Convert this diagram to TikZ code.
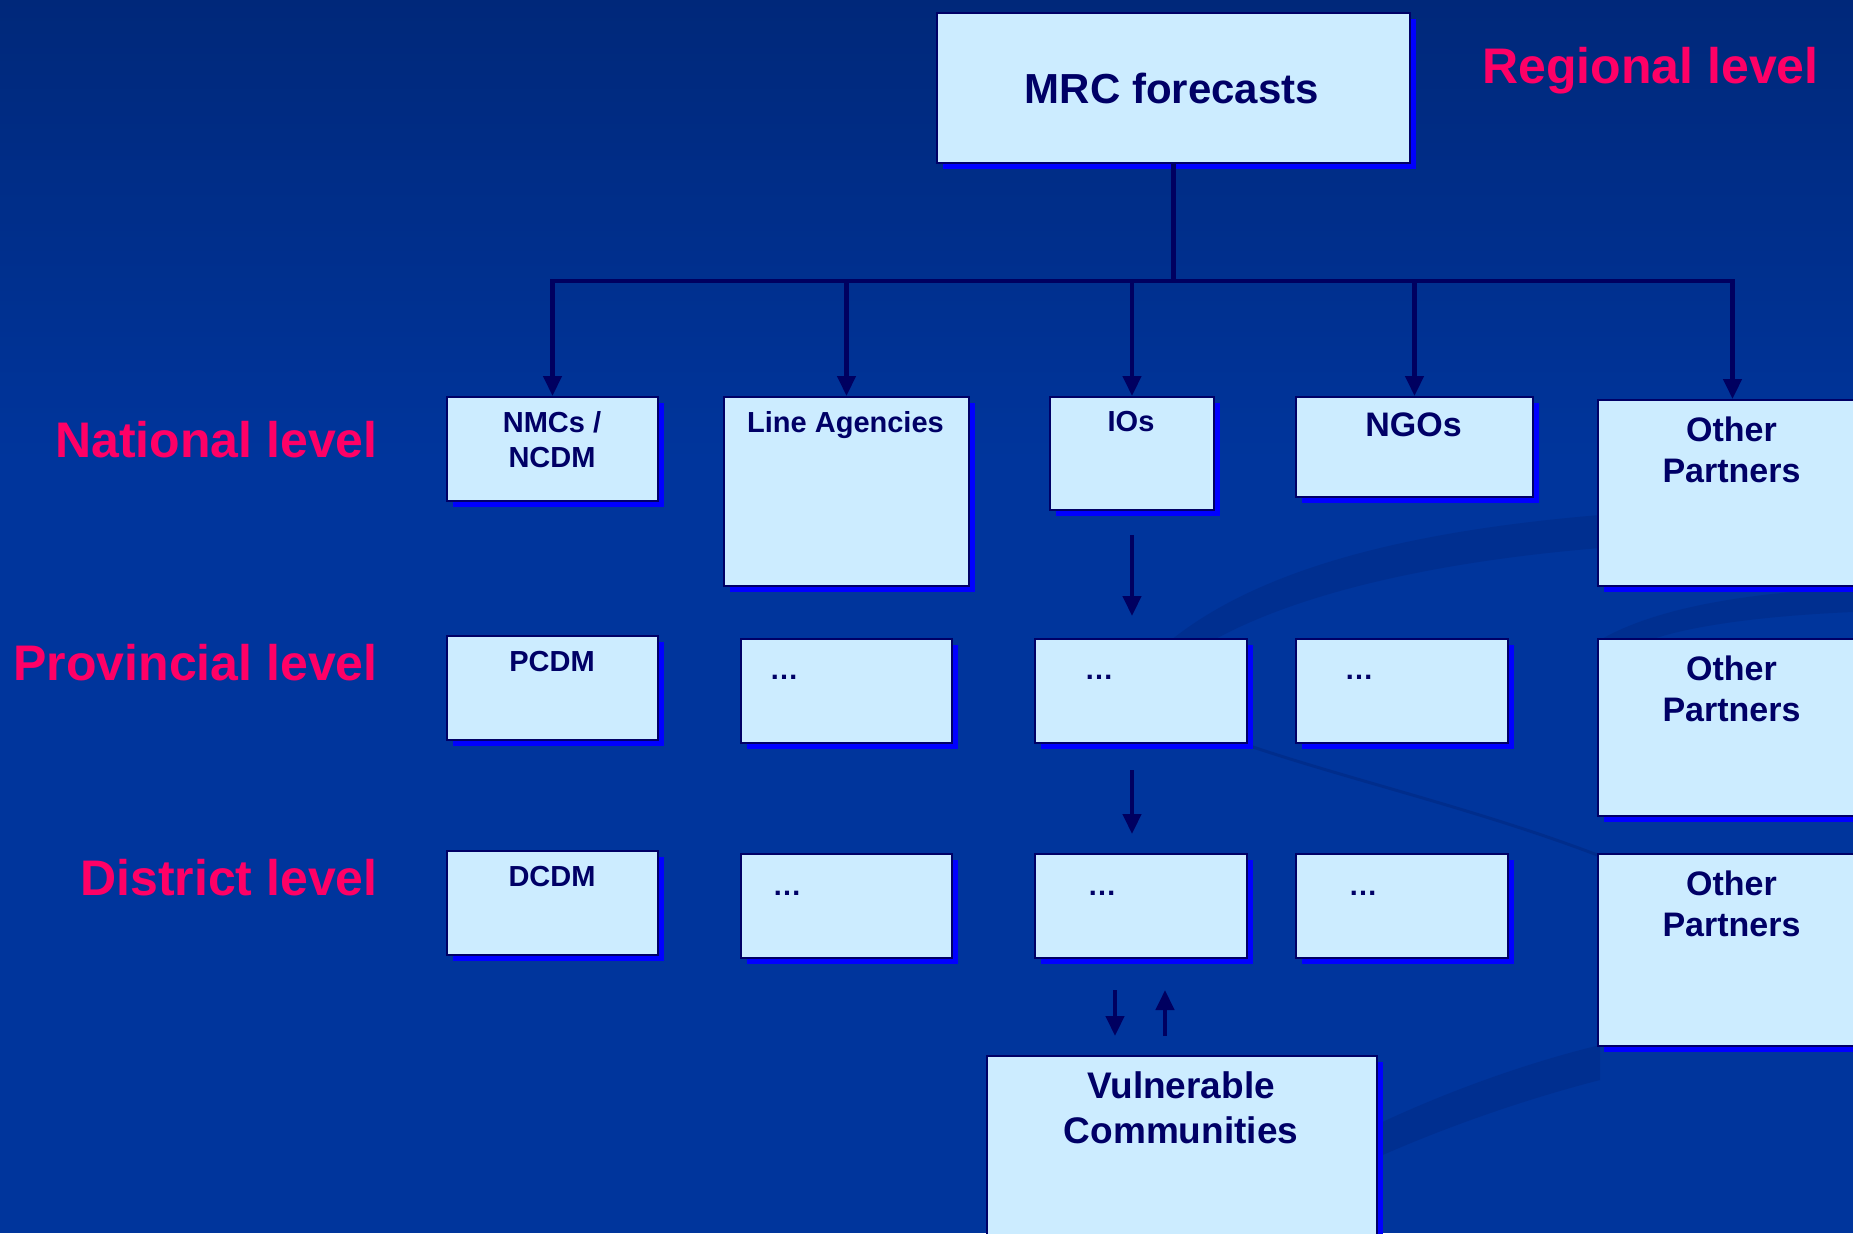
\documentclass[tikz,border=0pt]{standalone}
\usepackage{fontspec}
\setmainfont{Liberation Sans}
\usetikzlibrary{arrows.meta,shadows}
\definecolor{bgtop}{HTML}{00287A}
\definecolor{bgmain}{HTML}{00359C}
\definecolor{swoosh}{HTML}{00267E}
\definecolor{boxfill}{HTML}{CCECFF}
\definecolor{boxline}{HTML}{000066}
\definecolor{shadowblue}{HTML}{0000FF}
\definecolor{txtc}{HTML}{000066}
\definecolor{lvlc}{HTML}{FF0066}
\definecolor{arrc}{HTML}{000060}
\begin{document}
\begin{tikzpicture}[x=0.5pt,y=-0.5pt,
  box/.style={draw=boxline, fill=boxfill, line width=1pt, anchor=north west, inner sep=0pt,
    drop shadow={shadow xshift=3pt, shadow yshift=-3pt, fill=shadowblue, opacity=1}},
  txt/.style={text=txtc, font=\bfseries\fontsize{14.5}{17.5}\selectfont, align=center, inner sep=0pt},
  bigtxt/.style={txt, font=\bfseries\fontsize{17}{20.5}\selectfont},
  lvl/.style={text=lvlc, font=\bfseries\fontsize{25}{30}\selectfont, inner sep=0pt},
  conn/.style={draw=arrc, line width=2.2pt, -{Triangle[length=10pt,width=9pt]}},
  stem/.style={draw=arrc, line width=2.2pt}
]
\useasboundingbox (0,0) rectangle (1853,1233);
\clip (0,0) rectangle (1853,1233);
% background
\fill[bgmain] (0,0) rectangle (1853,1233);
\shade[top color=bgtop, bottom color=bgmain] (0,0) rectangle (1853,460);
% faint swooshes
\fill[swoosh, opacity=0.4] (1165,645) .. controls (1260,565) and (1420,530) .. (1600,515) -- (1600,548) .. controls (1430,562) and (1290,595) .. (1205,645) -- cycle;
\fill[swoosh, opacity=0.4] (1600,640) .. controls (1660,605) and (1760,592) .. (1853,588) -- (1853,612) .. controls (1760,616) and (1690,626) .. (1650,640) -- cycle;
\draw[swoosh, opacity=0.5, line width=1.5pt] (1247,745) .. controls (1350,780) and (1480,810) .. (1600,856);
\fill[swoosh, opacity=0.4] (1376,1125) .. controls (1450,1090) and (1530,1062) .. (1600,1045) -- (1600,1080) .. controls (1530,1098) and (1450,1125) .. (1376,1158) -- cycle;

% boxes
\node[box, minimum width=236.5pt, minimum height=75pt] (mrc) at (936,12) {};
\node[box, minimum width=105.5pt, minimum height=52pt] (nmc) at (446,396) {};
\node[box, minimum width=122.5pt, minimum height=94.5pt] (la) at (723,396) {};
\node[box, minimum width=82pt, minimum height=56.5pt] (ios) at (1049,396) {};
\node[box, minimum width=118.5pt, minimum height=50pt] (ngo) at (1295,396) {};
\node[box, minimum width=134.5pt, minimum height=93pt] (opa) at (1597,399) {};

\node[box, minimum width=105.5pt, minimum height=52pt] (pcdm) at (446,635) {};
\node[box, minimum width=105.5pt, minimum height=52pt] (lap) at (740,638) {};
\node[box, minimum width=106pt, minimum height=52pt] (iop) at (1034,638) {};
\node[box, minimum width=106pt, minimum height=52pt] (ngp) at (1295,638) {};
\node[box, minimum width=134.5pt, minimum height=88.5pt] (opb) at (1597,638) {};

\node[box, minimum width=105.5pt, minimum height=52pt] (dcdm) at (446,850) {};
\node[box, minimum width=105.5pt, minimum height=52pt] (lad) at (740,853) {};
\node[box, minimum width=106pt, minimum height=52pt] (iod) at (1034,853) {};
\node[box, minimum width=106pt, minimum height=52pt] (ngd) at (1295,853) {};
\node[box, minimum width=134.5pt, minimum height=96pt] (opc) at (1597,853) {};

\node[box, minimum width=195pt, minimum height=110pt] (vc) at (986,1055) {};

% box texts
\node[txt, font=\bfseries\fontsize{21}{25}\selectfont, anchor=base] (mrct) at (1172,103) {MRC forecasts};
\node[txt, anchor=north] (nmct) at (552,411) {NMCs /\\NCDM};
\node[txt, anchor=north] (lat) at (845.5,411) {Line Agencies};
\node[txt, anchor=north] (iost) at (1131,411) {IOs};
\node[bigtxt, anchor=north] (ngot) at (1413.5,412.5) {NGOs};
\node[bigtxt, anchor=north] (opat) at (1731.5,416) {Other\\Partners};
\node[txt, anchor=base] (pcdmt) at (552,671) {PCDM};
\node[txt, anchor=base] (lapt) at (784,679) {…};
\node[txt, anchor=base] (iopt) at (1099,679) {…};
\node[txt, anchor=base] (ngpt) at (1359,679) {…};
\node[bigtxt, anchor=north] (opbt) at (1731.5,655) {Other\\Partners};
\node[txt, anchor=base] (dcdmt) at (552,886) {DCDM};
\node[txt, anchor=base] (ladt) at (787,895) {…};
\node[txt, anchor=base] (iodt) at (1102,895) {…};
\node[txt, anchor=base] (ngdt) at (1363,895) {…};
\node[bigtxt, anchor=north] (opct) at (1731.5,870) {Other\\Partners};
\node[txt, font=\bfseries\fontsize{18.5}{22.5}\selectfont, anchor=north] (vct) at (1181,1071) {Vulnerable\\Communities};

% level labels
\node[lvl, anchor=base west] (regl) at (1482,83) {Regional level};
\node[lvl, anchor=base east] (natl) at (378,457) {National level};
\node[lvl, anchor=base east] (provl) at (378,680) {Provincial level};
\node[lvl, anchor=base east] (distl) at (378,895) {District level};

% tree connectors
\coordinate (bar) at ([yshift=-58.5pt]mrc.south);
\draw[stem] (mrc.south) -- (bar);
\draw[conn] (bar) -| (nmc.north);
\draw[conn] (bar) -| (la.north);
\draw[conn] (bar) -| (ios.north);
\draw[conn] (bar) -| (ngo.north);
\draw[conn] (bar) -| (opa.north);

% IOs chain (vertical at the IOs box centre)
\draw[conn, shorten <=12pt, shorten >=11pt] (ios.south) -- (ios.south |- iop.north);
\draw[conn, shorten <=13pt, shorten >=9.5pt] (ios.south |- iop.south) -- (ios.south |- iod.north);
\draw[conn, shorten <=15.5pt, shorten >=9.5pt] ([xshift=-13pt]iod.south) -- ([xshift=-13pt]iod.south |- vc.north);
\draw[conn, shorten <=9.5pt, shorten >=15.5pt] ([xshift=12pt]iod.south |- vc.north) -- ([xshift=12pt]iod.south);
\end{tikzpicture}
\end{document}
